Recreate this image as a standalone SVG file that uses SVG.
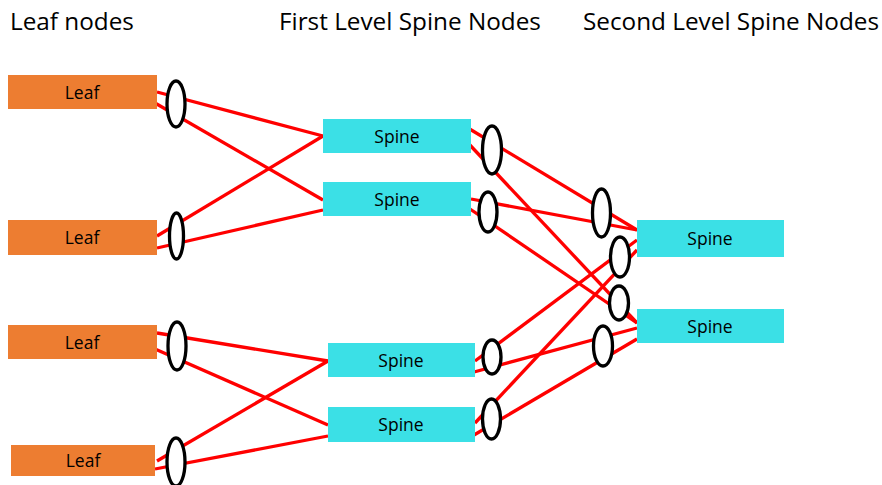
<svg xmlns="http://www.w3.org/2000/svg" width="882" height="485" viewBox="0 0 882 485">
<style>
.title{font-family:"Open Sans","Liberation Sans",sans-serif;font-size:24.3px;fill:#000}
.lbl{font-family:"Open Sans","Liberation Sans",sans-serif;font-size:17.5px;fill:#000;text-anchor:middle}
.leaf{fill:#ED7D31}
.spine{fill:#3BE0E6}
.link{stroke:#FF0000;stroke-width:3.3;fill:none}
.lag{fill:#fff;stroke:#000;stroke-width:3.3}
</style>
<rect width="882" height="485" fill="#fff"/>
<g id="titles">
<text class="title" x="10" y="30">Leaf nodes</text>
<text class="title" x="279" y="30">First Level Spine Nodes</text>
<text class="title" x="583" y="30">Second Level Spine Nodes</text>
</g>
<g id="connectors">
<line class="link" x1="157" y1="92" x2="323" y2="136"/>
<line class="link" x1="155" y1="103" x2="323" y2="200"/>
<line class="link" x1="157" y1="236" x2="323" y2="136"/>
<line class="link" x1="157" y1="248" x2="323" y2="210"/>
<line class="link" x1="157" y1="333" x2="328" y2="361"/>
<line class="link" x1="155" y1="349" x2="328" y2="425"/>
<line class="link" x1="157" y1="461" x2="328" y2="361"/>
<line class="link" x1="155" y1="469" x2="328" y2="436"/>
<line class="link" x1="468" y1="128" x2="637" y2="230"/>
<line class="link" x1="468" y1="143" x2="637" y2="323"/>
<line class="link" x1="471" y1="199" x2="637" y2="230"/>
<line class="link" x1="470" y1="209" x2="637" y2="323"/>
<line class="link" x1="475" y1="361" x2="637" y2="240"/>
<line class="link" x1="474" y1="372" x2="637" y2="328"/>
<line class="link" x1="475" y1="423" x2="637" y2="250"/>
<line class="link" x1="474" y1="435" x2="637" y2="339"/>
</g>
<g id="leaf1"><rect class="leaf" x="8" y="75" width="149" height="34"/><text class="lbl" x="82" y="99">Leaf</text></g>
<g id="leaf2"><rect class="leaf" x="8" y="220" width="149" height="35"/><text class="lbl" x="82" y="244">Leaf</text></g>
<g id="leaf3"><rect class="leaf" x="8" y="325" width="149" height="34"/><text class="lbl" x="82" y="349">Leaf</text></g>
<g id="leaf4"><rect class="leaf" x="11" y="445" width="144" height="31"/><text class="lbl" x="83" y="467">Leaf</text></g>
<g id="spine1"><rect class="spine" x="323" y="119" width="148" height="34"/><text class="lbl" x="397" y="143">Spine</text></g>
<g id="spine2"><rect class="spine" x="323" y="182" width="148" height="34"/><text class="lbl" x="397" y="206">Spine</text></g>
<g id="spine3"><rect class="spine" x="328" y="343" width="147" height="34"/><text class="lbl" x="401" y="367">Spine</text></g>
<g id="spine4"><rect class="spine" x="328" y="407" width="147" height="35"/><text class="lbl" x="401" y="431">Spine</text></g>
<g id="spineA"><rect class="spine" x="637" y="220" width="147" height="37"/><text class="lbl" x="710" y="245">Spine</text></g>
<g id="spineB"><rect class="spine" x="637" y="309" width="147" height="34"/><text class="lbl" x="710" y="333">Spine</text></g>
<g id="bundles">
<ellipse class="lag" cx="176" cy="104" rx="9" ry="23"/>
<ellipse class="lag" cx="176.5" cy="236" rx="7" ry="23"/>
<ellipse class="lag" cx="177" cy="346" rx="9" ry="24"/>
<ellipse class="lag" cx="176" cy="462" rx="9" ry="24"/>
<ellipse class="lag" cx="492" cy="150" rx="9.5" ry="24"/>
<ellipse class="lag" cx="488" cy="212" rx="9" ry="20"/>
<ellipse class="lag" cx="492" cy="357" rx="9" ry="17"/>
<ellipse class="lag" cx="491.5" cy="419" rx="9" ry="20"/>
<ellipse class="lag" cx="601.5" cy="213" rx="9" ry="24"/>
<ellipse class="lag" cx="620" cy="257" rx="9.5" ry="20"/>
<ellipse class="lag" cx="619" cy="303" rx="9.5" ry="17"/>
<ellipse class="lag" cx="603" cy="346" rx="9.5" ry="20"/>
</g>
</svg>
